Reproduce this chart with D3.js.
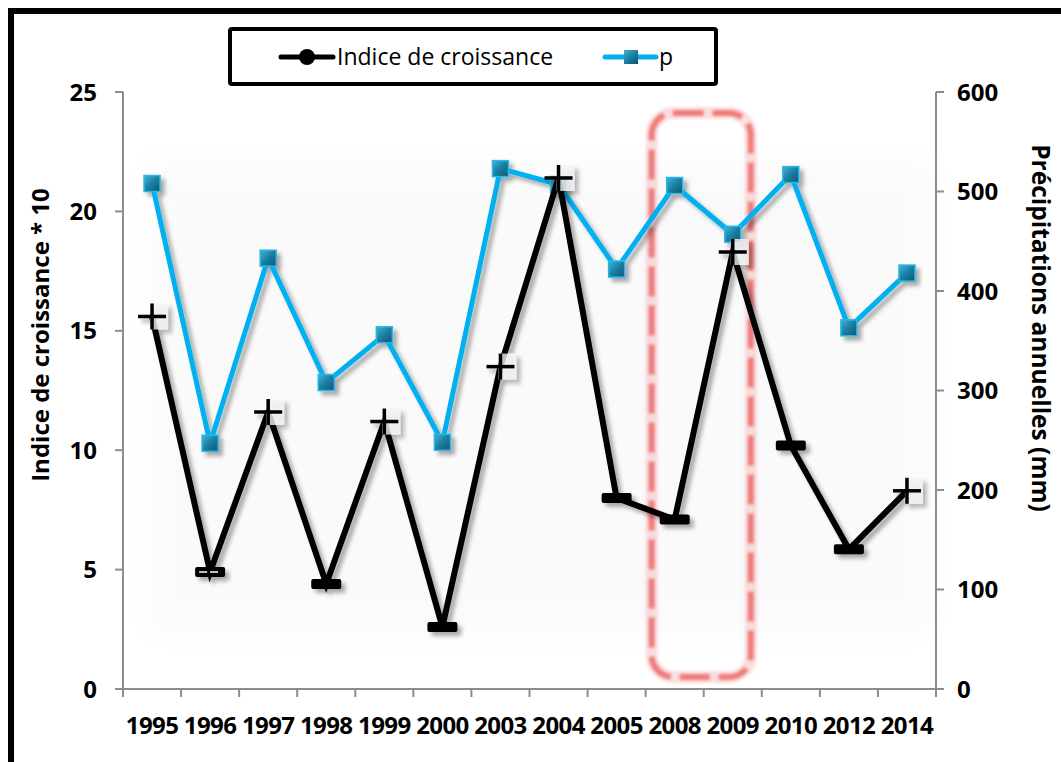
<!DOCTYPE html>
<html><head><meta charset="utf-8">
<script src="https://cdn.jsdelivr.net/npm/d3@7/dist/d3.min.js"></script>
<style>body{margin:0;background:#fff}svg{display:block}text{font-family:"Open Sans",sans-serif}</style>
</head><body><svg id="c" width="1061" height="762"></svg>
<script>
const years = ["1995","1996","1997","1998","1999","2000","2003","2004","2005","2008","2009","2010","2012","2014"];
const indice = [15.6,4.9,11.6,4.4,11.2,2.6,13.5,21.4,8.0,7.1,18.3,10.2,5.85,8.3];
const indiceMarkers = ["plus","dash","plus","dash","plus","dash","plus","plus","dash","dash","plus","dash","dash","plus"];
const precip = [508,247,433,308,356,248,523,507,422,506,457,517,363,418];
const leftTicks = [0,5,10,15,20,25];
const rightTicks = [0,100,200,300,400,500,600];
const highlight = ["2008","2009"];

const svg = d3.select("#c");
const defs = svg.append("defs");
const sh = defs.append("filter").attr("id","sh").attr("x","-20%").attr("y","-20%").attr("width","140%").attr("height","140%");
sh.append("feDropShadow").attr("dx",4).attr("dy",4).attr("stdDeviation",2.2).attr("flood-color","#000").attr("flood-opacity",0.33);
const bl = defs.append("filter").attr("id","bl").attr("x","-20%").attr("y","-5%").attr("width","140%").attr("height","110%");
bl.append("feGaussianBlur").attr("stdDeviation",1.6);
const bgBlur = defs.append("filter").attr("id","bgb").attr("x","-10%").attr("y","-10%").attr("width","120%").attr("height","120%");
bgBlur.append("feGaussianBlur").attr("stdDeviation",12);
const sq = defs.append("linearGradient").attr("id","sq").attr("x1",0).attr("y1",0).attr("x2",1).attr("y2",1);
sq.append("stop").attr("offset","0%").attr("stop-color","#3fb4d8");
sq.append("stop").attr("offset","50%").attr("stop-color","#1a7fa2");
sq.append("stop").attr("offset","100%").attr("stop-color","#0c5570");

const L = 123, R = 936, T = 92, B = 689;
const x = d3.scaleBand().domain(years).range([L,R]);
const cx = d => x(d) + x.bandwidth()/2;
const yL = d3.scaleLinear().domain([0,25]).range([B,T]);
const yR = d3.scaleLinear().domain([0,600]).range([B,T]);

// outer frame
svg.append("rect").attr("x",11).attr("y",11).attr("width",1120).attr("height",820)
  .attr("fill","none").attr("stroke","#000").attr("stroke-width",6);

// faint plot background
svg.append("rect").attr("x",150).attr("y",162).attr("width",780).attr("height",470)
  .attr("fill","#f2f2f2").attr("opacity",0.35).attr("filter","url(#bgb)");

// axes
const axisCol = "#8c8c8c";
const gA = svg.append("g").attr("stroke",axisCol).attr("stroke-width",2).attr("fill","none");
gA.append("line").attr("x1",L).attr("x2",L).attr("y1",T).attr("y2",B+8);
gA.append("line").attr("x1",R).attr("x2",R).attr("y1",T).attr("y2",B+8);
gA.append("line").attr("x1",L-8).attr("x2",R+8).attr("y1",B).attr("y2",B);
leftTicks.forEach(t=>gA.append("line").attr("x1",L-8).attr("x2",L).attr("y1",yL(t)).attr("y2",yL(t)));
rightTicks.forEach(t=>gA.append("line").attr("x1",R).attr("x2",R+8).attr("y1",yR(t)).attr("y2",yR(t)));
years.forEach(yv=>gA.append("line").attr("x1",x(yv)).attr("x2",x(yv)).attr("y1",B).attr("y2",B+8));

const fs = 24;
svg.append("g").selectAll("text").data(leftTicks).join("text")
  .attr("x",97).attr("y",d=>yL(d)).attr("dy","0.36em").attr("text-anchor","end")
  .attr("font-weight","bold").attr("font-size",fs).text(d=>d);
svg.append("g").selectAll("text").data(rightTicks).join("text")
  .attr("x",957).attr("y",d=>yR(d)).attr("dy","0.36em").attr("text-anchor","start")
  .attr("font-weight","bold").attr("font-size",fs).text(d=>d);
svg.append("g").selectAll("text").data(years).join("text")
  .attr("x",d=>cx(d)).attr("y",734).attr("text-anchor","middle")
  .attr("font-weight","bold").attr("font-size",fs).attr("letter-spacing","-0.6").text(d=>d);

svg.append("text").attr("transform","translate(49,335) rotate(-90)").attr("text-anchor","middle")
  .attr("font-weight","bold").attr("font-size",24).text("Indice de croissance * 10");
svg.append("text").attr("transform","translate(1032,328) rotate(90)").attr("text-anchor","middle")
  .attr("font-weight","bold").attr("font-size",24.5).text("Précipitations annuelles (mm)");

// highlight rect
const hx0 = x(highlight[0]) + 6, hx1 = x(highlight[1]) + x.bandwidth() - 11;
const hl = svg.append("g").attr("filter","url(#bl)");
hl.append("rect").attr("x",hx0).attr("y",yR(579)).attr("width",hx1-hx0).attr("height",yR(12)-yR(579))
  .attr("rx",22).attr("fill","none").attr("stroke","#f4a0a0").attr("stroke-width",12).attr("opacity",0.35);
hl.append("rect").attr("x",hx0).attr("y",yR(579)).attr("width",hx1-hx0).attr("height",yR(12)-yR(579))
  .attr("rx",22).attr("fill","none").attr("stroke","#ec6a6a").attr("stroke-width",6)
  .attr("stroke-dasharray","30 9").attr("opacity",0.85);

// precipitation line
const gP = svg.append("g").attr("filter","url(#sh)");
gP.append("path").datum(precip).attr("fill","none").attr("stroke","#00b0f0").attr("stroke-width",5)
  .attr("stroke-linejoin","miter")
  .attr("d",d3.line().x((d,i)=>cx(years[i])).y(d=>yR(d)));
gP.selectAll("rect").data(precip).join("rect")
  .attr("x",(d,i)=>cx(years[i])-8).attr("y",d=>yR(d)-8).attr("width",16).attr("height",16)
  .attr("fill","url(#sq)").attr("stroke","#2cb6e6").attr("stroke-width",1.5);

// indice line
const gI = svg.append("g").attr("filter","url(#sh)");
gI.append("path").datum(indice).attr("fill","none").attr("stroke","#000").attr("stroke-width",6)
  .attr("stroke-linejoin","miter")
  .attr("d",d3.line().x((d,i)=>cx(years[i])).y(d=>yL(d)));
indice.forEach((v,i)=>{
  const px = cx(years[i]), py = yL(v);
  if (indiceMarkers[i]==="plus") {
    gI.append("rect").attr("x",px-2).attr("y",py-13).attr("width",18).attr("height",26).attr("fill","#f4f4f4").attr("opacity",0.8);
    gI.append("line").attr("x1",px-14).attr("x2",px+14).attr("y1",py).attr("y2",py).attr("stroke","#000").attr("stroke-width",3.5);
    gI.append("line").attr("x1",px).attr("x2",px).attr("y1",py-13).attr("y2",py+13).attr("stroke","#000").attr("stroke-width",3.5);
  } else {
    gI.append("rect").attr("x",px-15).attr("y",py-5).attr("width",30).attr("height",10).attr("rx",2).attr("fill","#000");
    if (i===1) gI.append("line").attr("x1",px-11).attr("x2",px+11).attr("y1",py).attr("y2",py).attr("stroke","#fff").attr("stroke-width",1.5).attr("stroke-dasharray","8 3");
  }
});

// legend
const lg = svg.append("g");
lg.append("rect").attr("x",230).attr("y",29).attr("width",486).attr("height",55).attr("rx",2)
  .attr("fill","#fff").attr("stroke","#000").attr("stroke-width",4);
lg.append("line").attr("x1",281).attr("x2",333).attr("y1",57).attr("y2",57).attr("stroke","#000").attr("stroke-width",5).attr("stroke-linecap","round");
lg.append("circle").attr("cx",307).attr("cy",57).attr("r",8).attr("fill","#000");
lg.append("text").attr("x",337).attr("y",57).attr("dy","0.36em").attr("font-size",23).text("Indice de croissance");
lg.append("line").attr("x1",605).attr("x2",656).attr("y1",57).attr("y2",57).attr("stroke","#00b0f0").attr("stroke-width",5).attr("stroke-linecap","round");
lg.append("rect").attr("x",624).attr("y",50).attr("width",14).attr("height",14).attr("fill","url(#sq)");
lg.append("text").attr("x",659).attr("y",57).attr("dy","0.36em").attr("font-size",23).text("p");
</script></body></html>
